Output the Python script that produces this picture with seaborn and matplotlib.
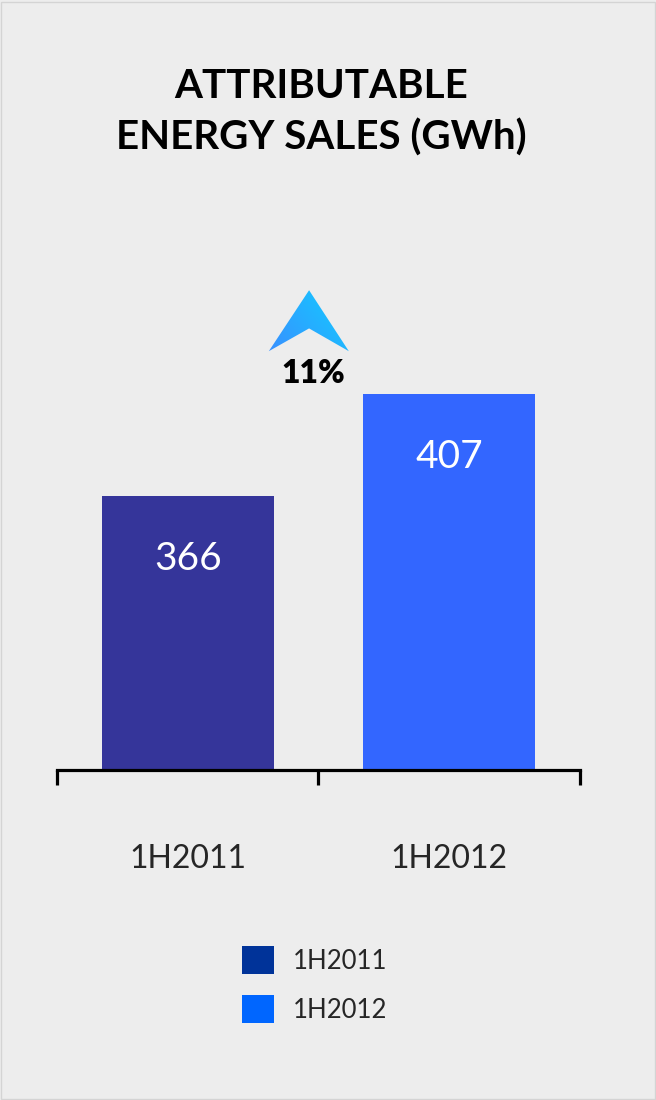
import numpy as np
import pandas as pd
import matplotlib.pyplot as plt
import seaborn as sns
from matplotlib.patches import Polygon, Rectangle
from matplotlib.colors import LinearSegmentedColormap

# Data
periods = ["1H2011", "1H2012"]
sales_gwh = [366, 407]
change_label = "11%"

bar_colors = ["#35359A", "#3366FF"]
legend_colors = ["#003399", "#0066FF"]
bg = "#EDEDED"

df = pd.DataFrame({"period": periods, "sales": sales_gwh})

sns.set_theme(style="white")
plt.rcParams["font.family"] = ["Lato", "DejaVu Sans"]

fig = plt.figure(figsize=(6.56, 11), dpi=100, facecolor=bg)
ax = fig.add_axes([0.087, 0.30, 0.797, 0.518])
ax.set_facecolor(bg)

sns.barplot(data=df, x="period", y="sales", hue="period", palette=bar_colors,
            width=0.66, legend=False, saturation=1, linewidth=0, ax=ax)

ax.set_xlim(-0.5, 1.5)
ax.set_ylim(256, 485)

# value labels inside bars
for i, v in enumerate(sales_gwh):
    ax.text(i, v - 18, str(v), ha="center", va="top", color="white",
            fontsize=28, fontweight="normal")

# spines and ticks
for s in ["top", "left", "right"]:
    ax.spines[s].set_visible(False)
ax.spines["bottom"].set_color("black")
ax.spines["bottom"].set_linewidth(2.3)
ax.set_yticks([])
ax.set_xticks([0, 1])
ax.set_xticklabels(periods, fontsize=23)
ax.tick_params(axis="x", which="major", length=0, pad=53)
ax.set_xticks([-0.5, 0.5, 1.5], minor=True)
ax.tick_params(axis="x", which="minor", length=11, width=2.3, color="black",
               direction="out", bottom=True)
ax.set_xlabel("")
ax.set_ylabel("")

# gradient arrow between bars
arrow_pts = [(0.405, 0.735), (0.482, 0.842), (0.558, 0.735), (0.482, 0.775)]
poly = Polygon(arrow_pts, closed=True, transform=ax.transAxes, facecolor="none",
               edgecolor="none")
ax.add_patch(poly)
cmap = LinearSegmentedColormap.from_list("arr", ["#3A8EFF", "#10D0FF"])
gx, gy = np.meshgrid(np.linspace(0, 1, 100), np.linspace(0, 1, 100))
grad = gx * 0.6 + (1 - gy) * 0.4
im = ax.imshow(grad, cmap=cmap, extent=[0.40, 0.56, 0.73, 0.85],
               transform=ax.transAxes, aspect="auto", origin="upper", zorder=3)
im.set_clip_path(poly)
ax.text(0.49, 0.695, change_label, transform=ax.transAxes, ha="center",
        va="center", fontsize=23, fontweight="heavy", color="black")

# title
fig.text(0.49, 0.921, "ATTRIBUTABLE", ha="center", va="center", fontsize=29,
         fontweight="bold", color="black")
fig.text(0.49, 0.875, "ENERGY SALES (GWh)", ha="center", va="center",
         fontsize=29, fontweight="bold", color="black")

# legend
handles = [Rectangle((0, 0), 1, 1, facecolor=c, edgecolor="none") for c in legend_colors]
fig.legend(handles, periods, loc="center", bbox_to_anchor=(0.48, 0.105),
           frameon=False, fontsize=18.5, handlelength=1.25, handleheight=1.25,
           handletextpad=0.74, labelspacing=0.85)

# thin border
fig.patches.append(Rectangle((0.002, 0.001), 0.996, 0.997, transform=fig.transFigure,
                             facecolor="none", edgecolor="#D4D4D4", linewidth=1))

fig.savefig("out.png", dpi=100, facecolor=bg)
